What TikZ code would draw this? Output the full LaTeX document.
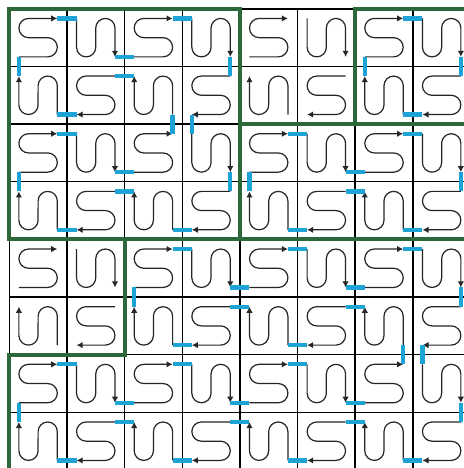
\documentclass[tikz,border=0pt]{standalone}
\usetikzlibrary{arrows.meta}
\definecolor{linkblue}{RGB}{30,163,214}
\definecolor{regiongreen}{RGB}{45,104,58}
\tikzset{
  cellpath/.style={draw=black!85, line width=0.6pt, -{Latex[length=3pt,width=3.2pt]}},
  linkbar/.style={draw=linkblue, line width=2.1pt},
  regionborder/.style={draw=regiongreen, line width=2pt},
  gridline/.style={draw=black, line width=0.7pt},
}
\begin{document}
\begin{tikzpicture}
\useasboundingbox (-0.161,0.035) rectangle (7.887,8.153);
\clip (-0.161,0.035) rectangle (7.887,8.153);
\fill[white] (-0.161,0.035) rectangle (7.887,8.153);
% grid
\draw[gridline] (0,0) grid (8,8);
% serpentine paths, four per 2x2 block
\foreach \R in {0,...,3} {
  \foreach \C in {0,...,3} {
    \begin{scope}[shift={(2*\C+1,7-2*\R)}]
      \foreach \k in {0,1,2,3} {
        \draw[cellpath, rotate=-90*\k] (-5/6,1/6) -- (-1/3,1/6)
          arc[start angle=-90, end angle=90, radius=1/6] -- (-2/3,1/2)
          arc[start angle=270, end angle=90, radius=1/6] -- (-1/6,5/6);
      }
    \end{scope}
  }
}
% internal links (k: 0 top, 1 right, 2 bottom, 3 left)
\foreach \R/\C/\k in {0/0/0,0/0/2,0/0/3, 0/1/0,0/1/1, 1/0/0,1/0/2,1/0/3, 1/1/1,1/1/2,
  0/3/0,0/3/1,0/3/2,0/3/3, 1/2/0,1/2/2,1/2/3, 1/3/0,1/3/1,1/3/2,
  2/1/0,2/1/2,2/1/3, 2/2/0,2/2/2, 2/3/0,2/3/1,
  3/0/0,3/0/2,3/0/3, 3/1/0,3/1/2, 3/2/0,3/2/2, 3/3/1,3/3/2} {
  \begin{scope}[shift={(2*\C+1,7-2*\R)}]
    \draw[linkbar, rotate=-90*\k] (-1/6,5/6) -- (1/6,5/6);
  \end{scope}
}
% horizontal merges (left block R/C)
\foreach \R/\C in {0/0,1/0,1/2,2/1,2/2,3/0,3/1,3/2} {
  \draw[linkbar] (2*\C+2-1/6,7-2*\R+1/6) -- (2*\C+2+1/6,7-2*\R+1/6);
  \draw[linkbar] (2*\C+2-1/6,7-2*\R-1/6) -- (2*\C+2+1/6,7-2*\R-1/6);
}
% vertical merges (upper block R/C)
\foreach \R/\C in {0/1,2/3} {
  \draw[linkbar] (2*\C+1-1/6,6-2*\R+1/6) -- (2*\C+1-1/6,6-2*\R-1/6);
  \draw[linkbar] (2*\C+1+1/6,6-2*\R+1/6) -- (2*\C+1+1/6,6-2*\R-1/6);
}
% region borders
\draw[regionborder] (0,8) rectangle (4,4);
\draw[regionborder] (6,8) rectangle (8,6);
\draw[regionborder] (4,6) rectangle (8,4);
\draw[regionborder] (2,4) -- (8,4) -- (8,0) -- (0,0) -- (0,2) -- (2,2) -- cycle;
\end{tikzpicture}
\end{document}
